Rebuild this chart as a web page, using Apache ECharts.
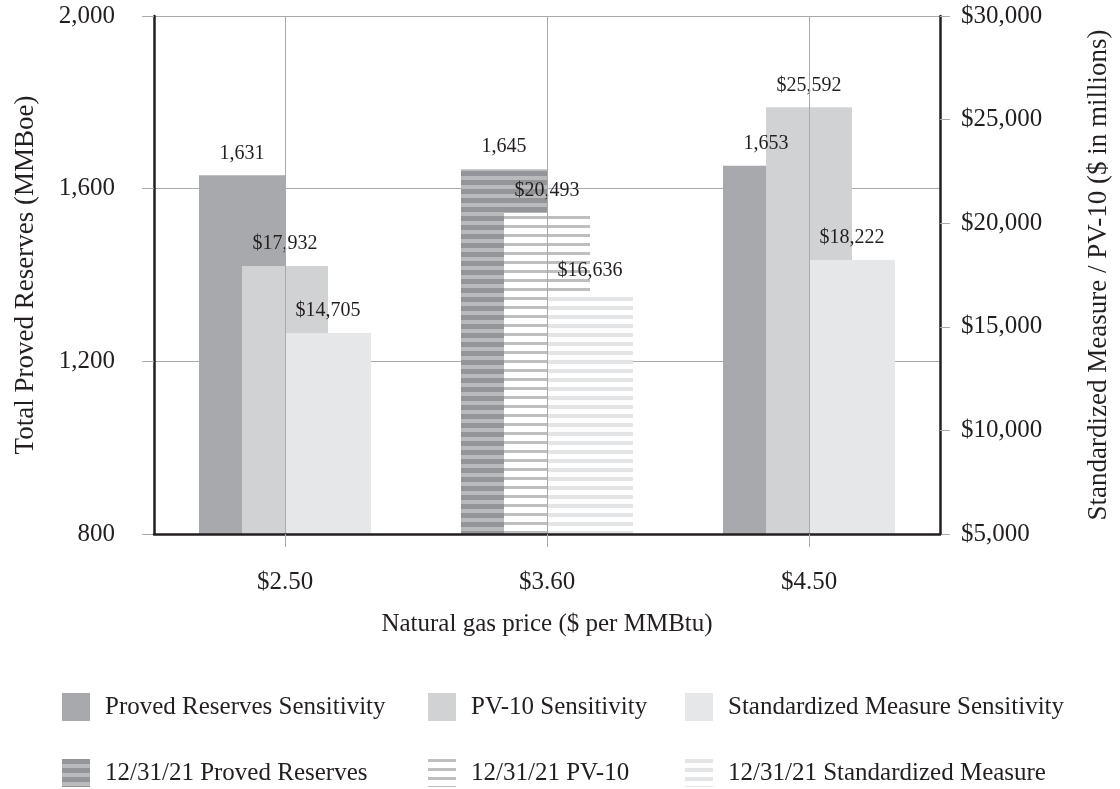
<!DOCTYPE html>
<html>
<head>
<meta charset="utf-8">
<script src="https://cdn.jsdelivr.net/npm/echarts@6/dist/echarts.min.js"></script>
<style>
  html, body { margin: 0; padding: 0; background: #ffffff; }
  #chart { width: 1120px; height: 789px; }
</style>
</head>
<body>
<div id="chart"></div>
<script>
// Natural gas price scenarios
const categories = ['$2.50', '$3.60', '$4.50'];

// Sensitivity cases ($2.50 and $4.50)
const provedSensitivity = [1631, null, 1653];
const pv10Sensitivity = [17932, null, 25592];
const stdMeasureSensitivity = [14705, null, 18222];

// Year-end 2021 reference case ($3.60)
const provedYearEnd = [null, 1645, null];
const pv10YearEnd = [null, 20493, null];
const stdMeasureYearEnd = [null, 16636, null];

// Axis ranges
const leftAxisRange = { min: 800, max: 2000, interval: 400 };
const rightAxisRange = { min: 5000, max: 30000, interval: 5000 };

const FONT = '"Liberation Serif", "Times New Roman", serif';
const INK = '#231f20';
const GRID = '#a7a9ac';

const fmtNum = v => Number(v).toLocaleString('en-US');
const fmtUsd = v => '$' + Number(v).toLocaleString('en-US');

function stripes(color, on, off) {
  return {
    symbol: 'rect',
    symbolSize: 1,
    symbolKeepAspect: false,
    color: color,
    dashArrayX: [1, 0],
    dashArrayY: [on, off],
    rotation: 0
  };
}

function barLabel(formatter) {
  return {
    show: true,
    position: 'top',
    distance: 12,
    color: INK,
    fontFamily: FONT,
    fontSize: 20,
    formatter: p => formatter(p.value)
  };
}

function bar(name, data, xIdx, yIdx, color, fmt, decal) {
  const itemStyle = { color: color };
  if (decal) itemStyle.decal = decal;
  return {
    name: name,
    type: 'bar',
    xAxisIndex: xIdx,
    yAxisIndex: yIdx,
    data: data,
    barWidth: 86,
    barGap: '-50%',
    itemStyle: itemStyle,
    label: barLabel(fmt),
    emphasis: { disabled: true }
  };
}

const textStyle = { fontFamily: FONT, fontSize: 25, color: INK };
const titleStyle = { fontFamily: FONT, fontSize: 27, color: INK };

function legendColumn(left, names) {
  return {
    orient: 'vertical',
    left: left,
    top: 693,
    padding: 0,
    itemWidth: 28,
    itemHeight: 28,
    itemGap: 38,
    icon: 'rect',
    selectedMode: false,
    data: names,
    textStyle: Object.assign({ padding: [0, 0, 0, 10] }, textStyle)
  };
}

const chart = echarts.init(document.getElementById('chart'), null, { renderer: 'canvas' });

chart.setOption({
  backgroundColor: '#ffffff',
  animation: false,
  grid: { left: 154, right: 177, top: 16, bottom: 255, containLabel: false },
  legend: [
    legendColumn(62, ['Proved Reserves Sensitivity', '12/31/21 Proved Reserves']),
    legendColumn(428, ['PV-10 Sensitivity', '12/31/21 PV-10']),
    legendColumn(685, ['Standardized Measure Sensitivity', '12/31/21 Standardized Measure'])
  ],
  xAxis: [
    {
      type: 'category',
      data: categories,
      name: 'Natural gas price ($ per MMBtu)',
      nameLocation: 'middle',
      nameGap: 78,
      nameTextStyle: textStyle,
      axisLine: { show: true, lineStyle: { color: INK, width: 2.5 } },
      axisTick: { show: true, alignWithLabel: true, length: 13, lineStyle: { color: GRID } },
      axisLabel: Object.assign({ margin: 36 }, textStyle),
      splitLine: { show: true, alignWithLabel: true, lineStyle: { color: GRID, width: 1 } },
      z: 3
    },
    {
      type: 'category',
      data: categories,
      show: false
    }
  ],
  yAxis: [
    {
      type: 'value',
      position: 'left',
      min: leftAxisRange.min,
      max: leftAxisRange.max,
      interval: leftAxisRange.interval,
      name: 'Total Proved Reserves (MMBoe)',
      nameLocation: 'middle',
      nameGap: 115,
      nameRotate: 90,
      nameTextStyle: titleStyle,
      axisLine: { show: true, lineStyle: { color: INK, width: 2.5 } },
      axisTick: { show: true, length: 12, lineStyle: { color: GRID } },
      axisLabel: Object.assign({ margin: 39, formatter: fmtNum }, textStyle),
      splitLine: { show: true, lineStyle: { color: GRID, width: 1 } }
    },
    {
      type: 'value',
      position: 'right',
      min: rightAxisRange.min,
      max: rightAxisRange.max,
      interval: rightAxisRange.interval,
      name: 'Standardized Measure / PV-10 ($ in millions)',
      nameLocation: 'middle',
      nameGap: 145,
      nameRotate: 90,
      nameTextStyle: titleStyle,
      axisLine: { show: true, lineStyle: { color: INK, width: 2.5 } },
      axisTick: { show: true, length: 10, lineStyle: { color: GRID } },
      axisLabel: Object.assign({ margin: 21, formatter: fmtUsd }, textStyle),
      splitLine: { show: false }
    }
  ],
  series: [
    bar('Proved Reserves Sensitivity', provedSensitivity, 0, 0, '#a8a9ac', fmtNum),
    bar('PV-10 Sensitivity', pv10Sensitivity, 0, 1, '#d1d2d4', fmtUsd),
    bar('Standardized Measure Sensitivity', stdMeasureSensitivity, 0, 1, '#e6e7e8', fmtUsd),
    bar('12/31/21 Proved Reserves', provedYearEnd, 1, 0, '#b9babc', fmtNum, stripes('#939598', 5, 4)),
    bar('12/31/21 PV-10', pv10YearEnd, 1, 1, '#ffffff', fmtUsd, stripes('#bcbec0', 3, 6)),
    bar('12/31/21 Standardized Measure', stdMeasureYearEnd, 1, 1, '#ffffff', fmtUsd, stripes('#e4e5e6', 4, 5))
  ]
});
</script>
</body>
</html>
